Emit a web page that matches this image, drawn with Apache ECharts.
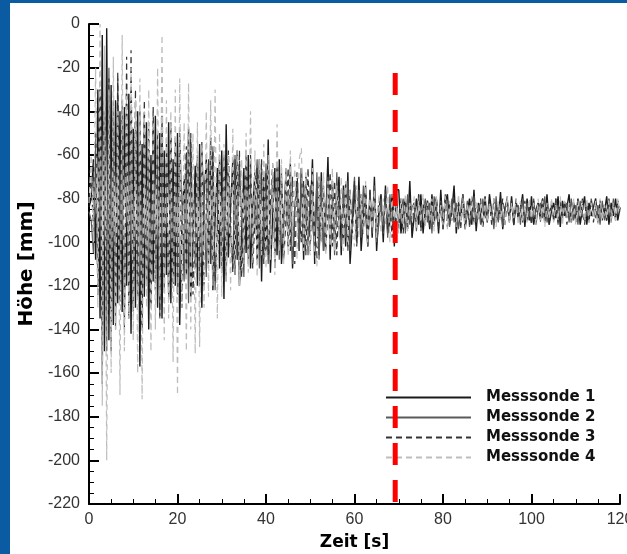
<!DOCTYPE html>
<html><head><meta charset="utf-8">
<script src="https://cdn.jsdelivr.net/npm/echarts@6/dist/echarts.min.js"></script>
<style>html,body{margin:0;padding:0;background:#fff;overflow:hidden;width:627px;height:554px;}#c{width:627px;height:554px;overflow:hidden;}</style>
</head><body><div id="c"></div>
<script>
const seriesNames = ['Messsonde 1','Messsonde 2','Messsonde 3','Messsonde 4'];
const timeStep = 0.5; // seconds between samples, first sample at t = 0
const xTicks = [0,20,40,60,80,100,120];
const yTicks = [0,-20,-40,-60,-80,-100,-120,-140,-160,-180,-200,-220];
const markerTime = 69.2;
const markerRange = [-22.5,-220];

const messsonde1 = [
-84,-80,-62,-108,-30,-135,-5,-150,-2,-145,-28,-138,-35,-128,-40,-132,-38,-120,-32,-142,
-48,-130,-40,-157,-55,-125,-45,-140,-60,-118,-42,-130,-50,-135,-58,-115,-45,-128,-62,-120,
-50,-138,-92,-70,-115,-48,-125,-100,-65,-120,-55,-130,-80,-62,-110,-52,-122,-90,-66,-112,
-58,-126,-46,-107,-85,-62,-115,-58,-120,-95,-66,-105,-60,-112,-84,-68,-108,-62,-118,-70,
-104,-53,-114,-88,-66,-106,-62,-110,-92,-70,-102,-64,-112,-85,-72,-104,-66,-108,-70,-100,
-88,-62,-110,-72,-106,-68,-104,-90,-61,-108,-72,-100,-84,-70,-106,-74,-102,-68,-110,-92,
-74,-100,-70,-104,-88,-74,-102,-76,-98,-70,-104,-86,-78,-100,-74,-96,-90,-78,-102,-76,
-76,-96,-86,-80,-94,-72,-98,-88,-80,-92,-78,-96,-84,-82,-94,-78,-92,-80,-96,-76,
-94,-82,-78,-92,-86,-74,-96,-82,-90,-78,-94,-86,-80,-92,-76,-95,-82,-88,-93,-79,
-91,-78,-86,-92,-82,-90,-77,-94,-84,-81,-90,-79,-92,-82,-89,-85,-78,-93,-80,-90,
-79,-92,-85,-82,-88,-80,-91,-78,-92,-86,-82,-89,-79,-93,-81,-88,-84,-78,-91,-82,
-90,-80,-92,-85,-79,-92,-82,-88,-84,-80,-91,-81,-89,-86,-79,-92,-82,-88,-80,-90,
-84];
const messsonde2 = [
-86,-90,-105,-55,-120,-30,-165,-40,-150,-20,-130,-35,-140,-25,-120,-40,-135,-50,-128,-38,
-132,-45,-125,-55,-138,-42,-120,-60,-130,-48,-118,-56,-135,-50,-122,-62,-126,-52,-116,-58,
-124,-50,-84,-118,-60,-128,-55,-96,-112,-62,-120,-58,-80,-116,-64,-110,-56,-122,-90,-62,
-114,-60,-118,-66,-96,-112,-60,-108,-64,-88,-116,-58,-110,-66,-104,-80,-62,-112,-68,-106,
-64,-110,-90,-70,-104,-64,-108,-70,-94,-66,-102,-68,-110,-84,-72,-104,-66,-100,-70,-106,
-74,-92,-102,-68,-108,-72,-104,-86,-70,-100,-74,-106,-68,-94,-102,-76,-98,-72,-104,-84,
-70,-100,-76,-98,-74,-88,-102,-78,-96,-74,-100,-92,-80,-96,-76,-98,-78,-90,-94,-78,
-94,-86,-80,-96,-78,-92,-84,-82,-95,-78,-93,-86,-80,-91,-82,-96,-79,-88,-92,-81,
-94,-78,-86,-93,-80,-91,-82,-94,-85,-78,-90,-81,-93,-87,-79,-91,-83,-92,-80,-88,
-90,-82,-85,-94,-79,-91,-82,-93,-86,-79,-91,-81,-89,-84,-83,-92,-80,-90,-82,-87,
-91,-80,-92,-85,-82,-89,-79,-91,-86,-83,-90,-80,-92,-81,-88,-84,-82,-91,-80,-90,
-83,-92,-81,-88,-90,-82,-91,-80,-86,-89,-83,-92,-81,-90,-85,-82,-91,-80,-89,-83,
-86];
const messsonde3 = [
-80,-70,-95,-50,-125,-30,-140,-45,-115,-25,-150,-40,-130,-22,-128,-35,-140,-15,-135,-12,
-130,-30,-118,-40,-140,-35,-112,-45,-128,-38,-122,-50,-134,-42,-110,-55,-126,-45,-120,-52,
-118,-48,-130,-88,-56,-112,-50,-124,-94,-60,-116,-54,-120,-84,-62,-110,-58,-118,-96,-60,
-112,-64,-116,-58,-92,-114,-62,-108,-58,-116,-86,-64,-106,-60,-112,-90,-66,-104,-62,-110,
-68,-106,-82,-64,-112,-66,-102,-68,-108,-90,-66,-104,-70,-110,-68,-88,-100,-72,-106,-66,
-104,-72,-94,-108,-70,-100,-74,-104,-86,-68,-102,-72,-106,-74,-90,-100,-72,-104,-76,-98,
-72,-102,-86,-78,-96,-76,-100,-80,-92,-78,-98,-80,-88,-96,-76,-94,-82,-98,-78,-92,
-92,-80,-96,-82,-91,-79,-94,-81,-92,-78,-95,-82,-90,-80,-93,-82,-91,-79,-94,-81,
-91,-80,-93,-82,-90,-79,-92,-81,-94,-80,-90,-82,-92,-79,-91,-83,-90,-80,-93,-82,
-90,-81,-92,-80,-91,-83,-89,-80,-92,-82,-90,-81,-93,-80,-89,-82,-91,-81,-90,-83,
-92,-81,-90,-82,-91,-80,-89,-83,-92,-81,-90,-80,-91,-82,-89,-81,-92,-83,-90,-81,
-91,-82,-89,-80,-92,-82,-90,-81,-91,-83,-89,-81,-90,-82,-91,-80,-89,-82,-90,-81,
-85];
const messsonde4 = [
-82,-60,-100,-20,-130,0,-175,-10,-200,-30,-160,-15,-140,-40,-170,-5,-150,-30,-135,-20,
-145,-35,-160,-25,-172,-40,-130,-30,-150,-45,-140,-20,-125,-5,-145,-35,-135,-40,-155,-30,
-170,-25,-130,-45,-150,-27,-140,-50,-151,-45,-148,-55,-130,-40,-125,-35,-120,-30,-135,-50,
-125,-55,-118,-60,-122,-48,-115,-58,-120,-62,-110,-50,-114,-40,-108,-58,-116,-62,-106,-55,
-112,-60,-108,-64,-115,-46,-104,-62,-110,-66,-106,-58,-102,-64,-108,-62,-57,-104,-68,-100,
-106,-66,-104,-111,-70,-100,-68,-106,-72,-102,-66,-104,-74,-98,-70,-104,-72,-100,-76,-96,
-102,-74,-98,-78,-96,-72,-100,-80,-94,-76,-98,-78,-96,-80,-92,-74,-100,-78,-94,-82,
-96,-80,-92,-78,-95,-82,-90,-79,-94,-81,-91,-78,-93,-82,-90,-80,-95,-79,-91,-83,
-92,-79,-94,-81,-90,-82,-93,-78,-91,-80,-94,-82,-89,-79,-92,-81,-90,-83,-93,-80,
-91,-82,-89,-80,-93,-81,-90,-83,-92,-79,-91,-82,-89,-80,-92,-81,-90,-83,-91,-80,
-89,-82,-92,-80,-90,-81,-93,-82,-89,-80,-91,-83,-90,-79,-92,-81,-89,-82,-91,-80,
-92,-81,-89,-83,-90,-80,-91,-82,-89,-81,-92,-80,-90,-83,-89,-81,-91,-82,-90,-80,
-86];

const allValues = [messsonde1, messsonde2, messsonde3, messsonde4];
const lineStyles = [
  {color:'#1a1a1a', width:1.4, type:'solid'},
  {color:'#5a5a5a', width:1.2, type:'solid'},
  {color:'#333', width:1.2, type:[6,4]},
  {color:'#bdbdbd', width:1.2, type:[6,4]}
];

const chart = echarts.init(document.getElementById('c'), null, {renderer:'canvas', width:627, height:554});
const series = allValues.map((vals, k) => ({
  name: seriesNames[k], type:'line', symbol:'none', showSymbol:false, animation:false,
  z: 2 + k,
  lineStyle: lineStyles[k], itemStyle:{color: lineStyles[k].color},
  data: vals.map((v,i) => [i*timeStep, v])
}));
series.push({
  name:'marker', type:'line', symbol:'none', animation:false, z:10,
  lineStyle:{color:'#ff0000', width:5, type:[22,15]},
  data: markerRange.map(v => [markerTime, v])
});

const tickFont = {fontFamily:'Liberation Sans', fontSize:16, color:'#333'};
chart.setOption({
  animation:false,
  backgroundColor:'#ffffff',
  graphic:[
    {type:'rect', left:0, top:0, shape:{width:10, height:554}, style:{fill:'#0b5ba3'}, z:100},
    {type:'rect', left:0, top:0, shape:{width:627, height:3}, style:{fill:'#0b5ba3'}, z:100}
  ],
  grid:{left:89, top:24, width:531, height:480, containLabel:false, outerBoundsMode:'none'},
  legend:{
    data: seriesNames, orient:'vertical', left:385, top:390, padding:0,
    itemWidth:85, itemHeight:14, itemGap:5,
    itemStyle:{color:'rgba(0,0,0,0)', borderColor:'rgba(0,0,0,0)', borderWidth:0, opacity:0},
    textStyle:{fontFamily:'DejaVu Sans', fontWeight:'bold', fontSize:15, color:'#111', padding:[0,0,0,10]},
    selectedMode:false, z:4
  },
  xAxis:{
    type:'value', min:0, max:120, interval:20,
    name:'Zeit [s]', nameLocation:'middle', nameGap:30,
    nameTextStyle:{fontFamily:'DejaVu Sans', fontWeight:'bold', fontSize:17, color:'#000'},
    axisLine:{show:true, onZero:false, lineStyle:{color:'#000', width:2}},
    axisTick:{show:true, inside:true, length:10, lineStyle:{color:'#000', width:2}},
    minorTick:{show:true, splitNumber:4, length:5, lineStyle:{color:'#000', width:1}},
    splitLine:{show:false},
    axisLabel:Object.assign({margin:8, formatter: v => xTicks.includes(v) ? String(v) : ''}, tickFont)
  },
  yAxis:{
    type:'value', min:-220, max:0, interval:20,
    name:'Höhe [mm]', nameLocation:'middle', nameGap:47, nameRotate:90,
    nameTextStyle:{fontFamily:'DejaVu Sans', fontWeight:'bold', fontSize:20, color:'#000'},
    axisLine:{show:true, onZero:false, lineStyle:{color:'#000', width:2}},
    axisTick:{show:true, inside:true, length:10, lineStyle:{color:'#000', width:2}},
    minorTick:{show:true, splitNumber:4, length:5, lineStyle:{color:'#000', width:1}},
    splitLine:{show:false},
    axisLabel:Object.assign({margin:9, formatter: v => yTicks.includes(v) ? String(v) : ''}, tickFont)
  },
  series: series
});
</script></body></html>
